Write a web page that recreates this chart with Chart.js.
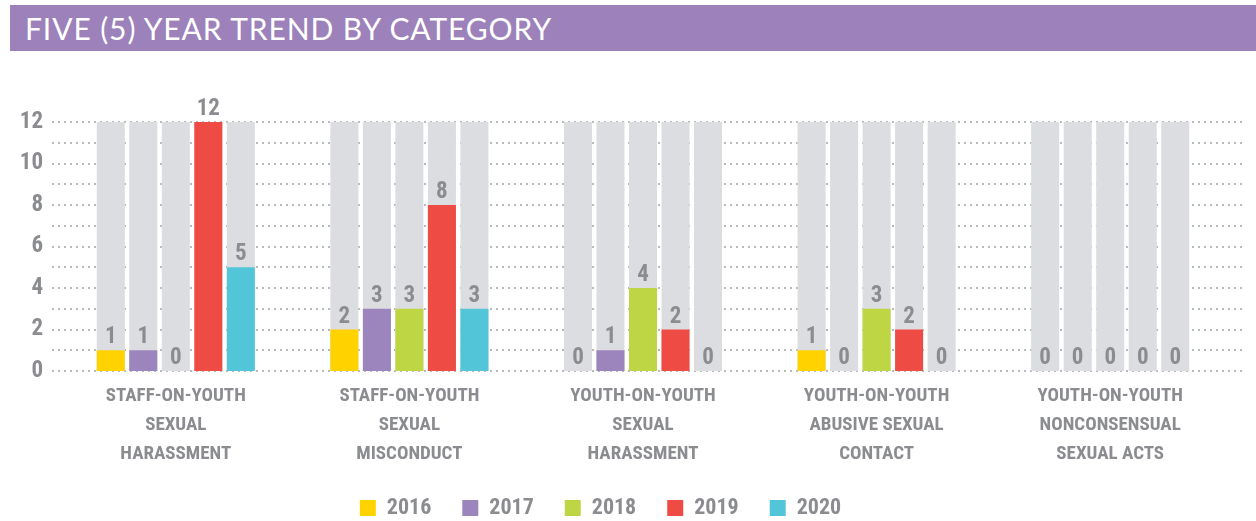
<!DOCTYPE html>
<html>
<head>
<meta charset="utf-8">
<script src="https://cdn.jsdelivr.net/npm/chart.js@4/dist/chart.umd.min.js"></script>
<style>
  html, body { margin: 0; padding: 0; background: #fff; overflow: hidden; width: 1256px; height: 521px; }
  #title {
    position: absolute; left: 10px; top: 5px; width: 1246px; height: 46px;
    background: #9c81bb; color: #fff; font-family: Lato, 'Open Sans', sans-serif;
    font-size: 30px; font-weight: 400; line-height: 47px; padding-left: 15px; box-sizing: border-box;
    letter-spacing: 0.9px; z-index: 2;
  }
  #wrap { position: absolute; left: -56px; top: 0; width: 1312px; height: 521px; }
</style>
</head>
<body>
<div id="title">FIVE (5) YEAR TREND BY CATEGORY</div>
<div id="wrap"><canvas id="c" width="1312" height="521"></canvas></div>
<script>
const categories = [
  ["STAFF-ON-YOUTH", "SEXUAL", "HARASSMENT"],
  ["STAFF-ON-YOUTH", "SEXUAL", "MISCONDUCT"],
  ["YOUTH-ON-YOUTH", "SEXUAL", "HARASSMENT"],
  ["YOUTH-ON-YOUTH", "ABUSIVE SEXUAL", "CONTACT"],
  ["YOUTH-ON-YOUTH", "NONCONSENSUAL", "SEXUAL ACTS"]
];
const years = ["2016", "2017", "2018", "2019", "2020"];
const v2016 = [1, 2, 0, 1, 0];
const v2017 = [1, 3, 1, 0, 0];
const v2018 = [0, 3, 4, 3, 0];
const v2019 = [12, 8, 2, 2, 0];
const v2020 = [5, 3, 0, 0, 0];
const trackMax = [12, 12, 12, 12, 12];
const yMin = 0, yMax = 12;

const seriesValues = [v2016, v2017, v2018, v2019, v2020];
const colors = ["#ffd200", "#9c84bd", "#bed644", "#ef4b45", "#52c6d8"];
const trackColor = "#dcdde0";
const textGray = "#8b8c90";
const FONT = "'Roboto Condensed', 'Liberation Sans Narrow', Roboto, sans-serif";

const datasets = [];
years.forEach((y, i) => {
  datasets.push({
    label: y, data: seriesValues[i], backgroundColor: colors[i], borderWidth: 0,
    stack: 's' + y, order: 1,
    categoryPercentage: 0.696, barPercentage: 0.862
  });
});
years.forEach((y, i) => {
  datasets.push({
    label: 'track' + y, data: trackMax, backgroundColor: trackColor, borderWidth: 0,
    stack: 's' + y, order: 2,
    categoryPercentage: 0.696, barPercentage: 0.862
  });
});

const dottedGrid = {
  id: 'dottedGrid',
  beforeDatasetsDraw(chart) {
    const ctx = chart.ctx, ys = chart.scales.y, area = chart.chartArea;
    ctx.save();
    ctx.strokeStyle = '#b9babc';
    ctx.lineWidth = 2;
    ctx.setLineDash([2, 4]);
    ys.ticks.forEach(t => {
      const py = Math.round(ys.getPixelForValue(t.value));
      ctx.beginPath();
      ctx.moveTo(area.left - 7, py);
      ctx.lineTo(area.right + 16, py);
      ctx.stroke();
    });
    ctx.restore();
  }
};

const valueLabels = {
  id: 'valueLabels',
  afterDatasetsDraw(chart) {
    const ctx = chart.ctx;
    ctx.save();
    ctx.fillStyle = textGray;
    ctx.font = "bold 23px " + FONT;
    ctx.textAlign = 'center';
    ctx.textBaseline = 'alphabetic';
    for (let d = 0; d < years.length; d++) {
      const meta = chart.getDatasetMeta(d);
      meta.data.forEach((bar, i) => {
        ctx.fillText(String(seriesValues[d][i]), bar.x, bar.y - 7);
      });
    }
    ctx.restore();
  }
};

new Chart(document.getElementById('c'), {
  type: 'bar',
  data: { labels: categories, datasets },
  options: {
    responsive: false,
    animation: false,
    events: [],
    layout: { padding: { top: 122, right: 29, left: 30, bottom: -8 } },
    plugins: {
      tooltip: { enabled: false },
      legend: {
        position: 'bottom',
        labels: {
          filter: (item) => item.datasetIndex < years.length,
          boxWidth: 16, boxHeight: 16, padding: 31,
          color: textGray,
          font: { family: FONT, size: 22, weight: 'bold' }
        }
      }
    },
    scales: {
      x: {
        grid: { display: false, drawTicks: false },
        border: { display: false },
        ticks: {
          color: textGray, padding: 11, autoSkip: false, maxRotation: 0,
          font: { family: FONT, size: 19, weight: 'bold', lineHeight: 1.53 }
        },
        afterFit: (s) => { s.height = 95; }
      },
      y: {
        min: yMin, max: yMax, stacked: false,
        grid: { display: false, drawTicks: false },
        border: { display: false },
        ticks: {
          stepSize: 1, autoSkip: false, padding: 16, color: textGray,
          font: { family: FONT, size: 23, weight: 'bold' },
          callback: (v) => (v % 2 === 0 ? String(v) : '')
        },
        afterFit: (s) => { s.width = 85; }
      }
    }
  },
  plugins: [dottedGrid, valueLabels]
});
</script>
</body>
</html>
